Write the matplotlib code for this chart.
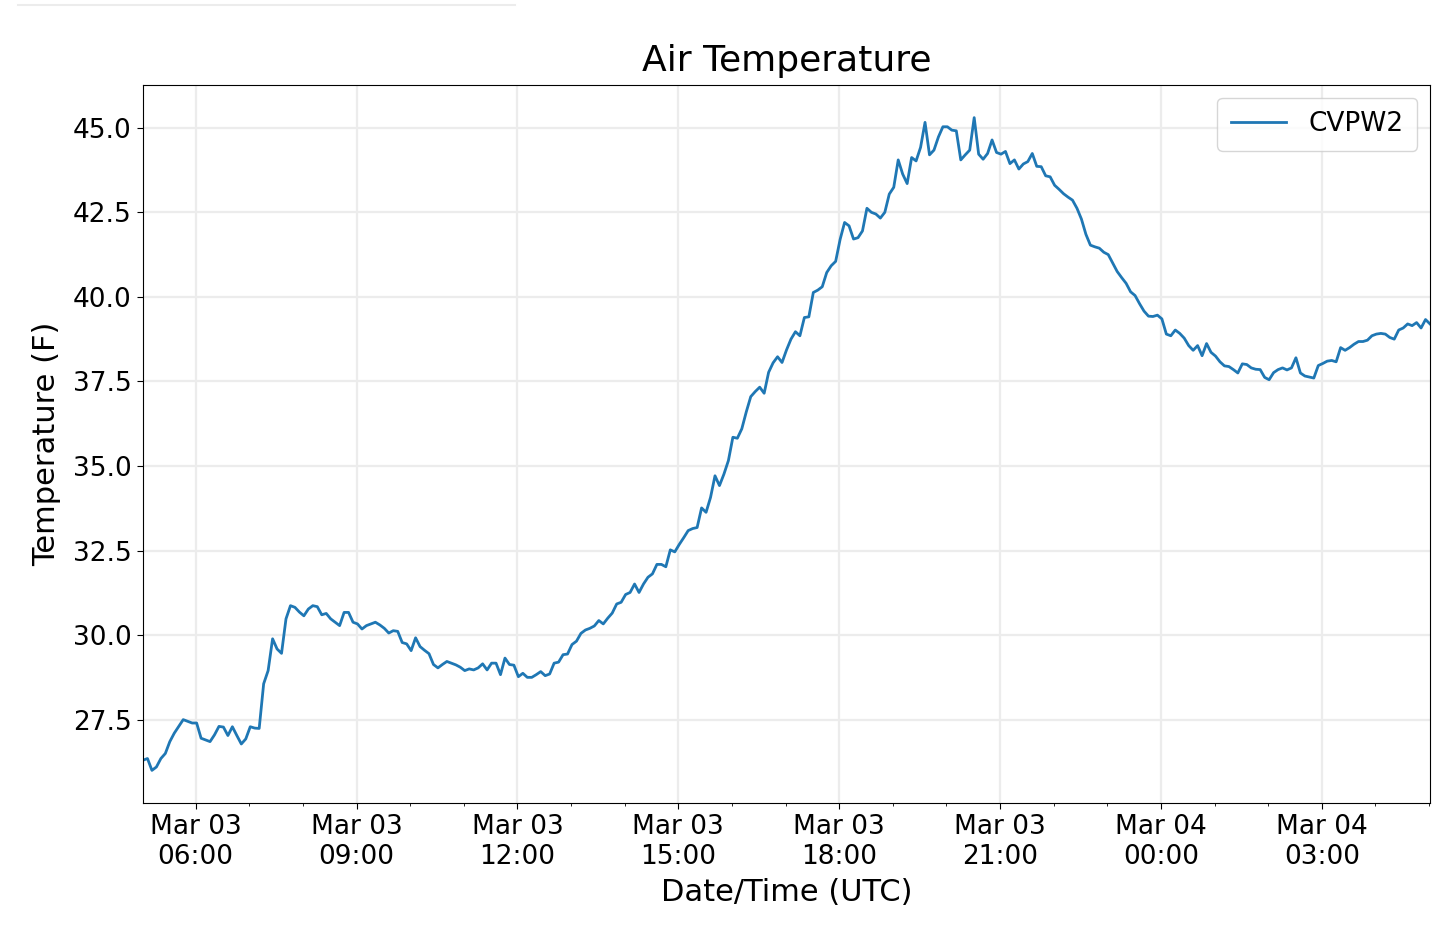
import numpy as np
import pandas as pd
import matplotlib
matplotlib.use('Agg')
import matplotlib.pyplot as plt
import matplotlib.dates as mdates
from matplotlib.lines import Line2D
from matplotlib.ticker import MultipleLocator, FormatStrFormatter

# station air temperature, 5 minute readings
station = 'CVPW2'
start_time = '2019-03-03 05:01'
step = '5min'

temps_f = [
    26.30, 26.35, 26.00, 26.10, 26.35, 26.50, 26.85, 27.10, 27.30, 27.50, 27.45, 27.40,  # 05
    27.40, 26.95, 26.90, 26.85, 27.05, 27.30, 27.28, 27.03, 27.29, 27.03, 26.78, 26.93,  # 06
    27.29, 27.25, 27.24, 28.56, 28.95, 29.89, 29.59, 29.46, 30.48, 30.87, 30.82, 30.68,  # 07
    30.57, 30.77, 30.87, 30.84, 30.60, 30.64, 30.48, 30.38, 30.28, 30.67, 30.67, 30.38,  # 08
    30.33, 30.18, 30.28, 30.33, 30.38, 30.30, 30.20, 30.06, 30.13, 30.11, 29.78, 29.74,  # 09
    29.54, 29.92, 29.66, 29.55, 29.45, 29.13, 29.03, 29.13, 29.22, 29.17, 29.12, 29.05,  # 10
    28.95, 29.00, 28.97, 29.03, 29.15, 28.97, 29.17, 29.17, 28.83, 29.32, 29.13, 29.11,  # 11
    28.77, 28.87, 28.75, 28.75, 28.83, 28.92, 28.80, 28.85, 29.17, 29.20, 29.42, 29.44,  # 12
    29.72, 29.82, 30.05, 30.15, 30.20, 30.27, 30.43, 30.33, 30.50, 30.65, 30.92, 30.97,  # 13
    31.20, 31.26, 31.51, 31.26, 31.51, 31.71, 31.81, 32.09, 32.09, 32.02, 32.52, 32.46,  # 14
    32.68, 32.88, 33.09, 33.15, 33.18, 33.76, 33.63, 34.07, 34.71, 34.42, 34.76, 35.16,  # 15
    35.85, 35.82, 36.10, 36.60, 37.05, 37.20, 37.33, 37.15, 37.77, 38.05, 38.23, 38.06,  # 16
    38.43, 38.75, 38.97, 38.85, 39.39, 39.41, 40.13, 40.20, 40.30, 40.72, 40.92, 41.05,  # 17
    41.70, 42.20, 42.10, 41.71, 41.75, 41.95, 42.62, 42.50, 42.45, 42.33, 42.50, 43.04,  # 18
    43.24, 44.05, 43.63, 43.35, 44.12, 44.02, 44.42, 45.16, 44.20, 44.34, 44.73, 45.03,  # 19
    45.03, 44.93, 44.91, 44.05, 44.20, 44.34, 45.30, 44.22, 44.07, 44.24, 44.64, 44.27,  # 20
    44.22, 44.30, 43.94, 44.05, 43.78, 43.93, 44.00, 44.24, 43.86, 43.85, 43.58, 43.55,  # 21
    43.30, 43.18, 43.05, 42.95, 42.86, 42.62, 42.30, 41.85, 41.53, 41.48, 41.44, 41.32,  # 22
    41.25, 41.00, 40.75, 40.57, 40.40, 40.15, 40.04, 39.80, 39.58, 39.43, 39.42, 39.46,  # 23
    39.35, 38.90, 38.85, 39.02, 38.92, 38.78, 38.56, 38.42, 38.56, 38.26, 38.62, 38.36,  # 00
    38.25, 38.08, 37.96, 37.94, 37.85, 37.75, 38.02, 38.00, 37.90, 37.86, 37.85, 37.62,  # 01
    37.55, 37.76, 37.85, 37.90, 37.84, 37.90, 38.20, 37.75, 37.66, 37.63, 37.60, 37.97,  # 02
    38.03, 38.10, 38.12, 38.08, 38.50, 38.42, 38.50, 38.60, 38.68, 38.68, 38.72, 38.85,  # 03
    38.90, 38.92, 38.90, 38.80, 38.75, 39.02, 39.08, 39.20, 39.15, 39.24, 39.08, 39.33,  # 04
    39.20,
]

times = pd.date_range(start_time, periods=len(temps_f), freq=step)

fig = plt.figure(figsize=(14.4, 9.26), dpi=100)
ax = fig.add_axes([143 / 1440, 1 - 803 / 926, (1430 - 143) / 1440, (803 - 85) / 926])

ax.plot(times, temps_f, color='#1f77b4', lw=2, label=station)
ax.set_xlim(times[0], times[-1])

ax.xaxis.set_major_locator(mdates.HourLocator(byhour=range(0, 24, 3)))
ax.xaxis.set_minor_locator(mdates.HourLocator())
ax.xaxis.set_major_formatter(mdates.DateFormatter('%b %d\n%H:%M'))
ax.yaxis.set_major_locator(MultipleLocator(2.5))
ax.yaxis.set_major_formatter(FormatStrFormatter('%.1f'))

ax.grid(color='#ececec', lw=1.6)
ax.tick_params(axis='both', which='major', labelsize=19, length=4.5)
ax.tick_params(axis='x', which='minor', length=2.5)
for lab in ax.get_xticklabels():
    lab.set_horizontalalignment('center')

ax.set_title('Air Temperature', fontsize=26, pad=10)
ax.set_xlabel('Date/Time (UTC)', fontsize=22, labelpad=6)
ax.set_ylabel('Temperature (F)', fontsize=22, labelpad=9)
ax.legend(loc='upper right', fontsize=19, handlelength=2.1, handletextpad=0.85,
          borderpad=0.5, labelspacing=0.5)

# faint rule at the top of the page
fig.add_artist(Line2D([18 / 1440, 515 / 1440], [1 - 5 / 926] * 2, color='#ececec', lw=1.5))

fig.savefig('out.png', dpi=100)
